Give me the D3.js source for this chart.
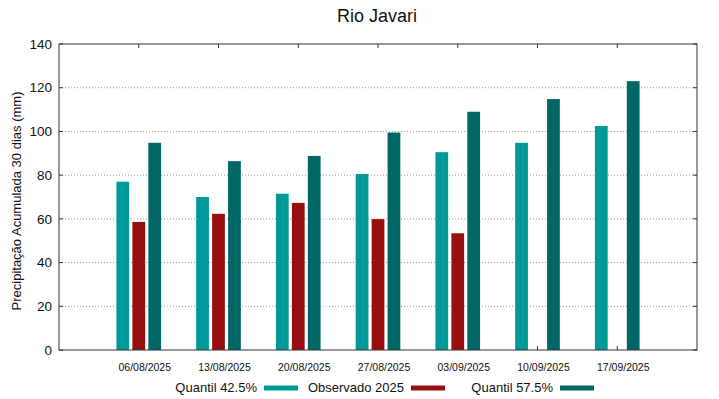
<!DOCTYPE html>
<html>
<head>
<meta charset="utf-8">
<script src="https://cdn.jsdelivr.net/npm/d3@7"></script>
<style>
body{margin:0;background:#fff;}
svg{display:block;font-family:"Liberation Sans",Arial,sans-serif;}
</style>
</head>
<body>
<svg id="chart" width="719" height="399"></svg>
<script>
const dates = ["06/08/2025","13/08/2025","20/08/2025","27/08/2025","03/09/2025","10/09/2025","17/09/2025"];
const quantil425 = [77, 70, 71.5, 80.5, 90.5, 94.8, 102.5];
const observado2025 = [58.6, 62.3, 67.3, 59.9, 53.4, null, null];
const quantil575 = [94.8, 86.4, 88.8, 99.5, 109, 114.8, 123];
const yTicks = [0, 20, 40, 60, 80, 100, 120, 140];

const svg = d3.select("#chart");
const L = 59, R = 697, T = 44, B = 350;
const x = d3.scalePoint().domain(dates).range([L, R]).padding(1);
const y = d3.scaleLinear().domain([0, 140]).range([B, T]);
const step = x.step();
const bw = step * 0.16, off = step * 0.2;

// grid
svg.append("g").selectAll("line").data(yTicks.filter(d => d > 0 && d < 140)).join("line")
  .attr("x1", L).attr("x2", R).attr("y1", d => y(d)).attr("y2", d => y(d))
  .attr("stroke", "#999").attr("stroke-width", 1).attr("stroke-dasharray", "1,2");

// tick marks (inside, mirrored)
const tk = svg.append("g").attr("stroke", "#333").attr("stroke-width", 1);
tk.selectAll(".yl").data(yTicks).join("line").attr("class","yl").attr("x1", L).attr("x2", L + 4)
  .attr("y1", d => y(d)).attr("y2", d => y(d));
tk.selectAll(".yr").data(yTicks).join("line").attr("class","yr").attr("x1", R - 4).attr("x2", R)
  .attr("y1", d => y(d)).attr("y2", d => y(d));
tk.selectAll(".xb").data(dates).join("line").attr("class","xb").attr("x1", d => x(d)).attr("x2", d => x(d))
  .attr("y1", B).attr("y2", B - 4);
tk.selectAll(".xt").data(dates).join("line").attr("class","xt").attr("x1", d => x(d)).attr("x2", d => x(d))
  .attr("y1", T).attr("y2", T + 4);

// bars
const series = [
  {name: "Quantil 42.5%", vals: quantil425, color: "#009999", dx: -off},
  {name: "Observado 2025", vals: observado2025, color: "#990f0f", dx: 0},
  {name: "Quantil 57.5%", vals: quantil575, color: "#006666", dx: off}
];
series.forEach(s => {
  svg.append("g").selectAll("rect").data(dates.map((d, i) => ({d, v: s.vals[i]})).filter(e => e.v != null))
    .join("rect")
    .attr("x", e => x(e.d) + s.dx - bw / 2).attr("width", bw)
    .attr("y", e => y(e.v)).attr("height", e => y(0) - y(e.v))
    .attr("fill", s.color);
});

// frame
svg.append("rect").attr("x", L).attr("y", T).attr("width", R - L).attr("height", B - T)
  .attr("fill", "none").attr("stroke", "#333").attr("stroke-width", 1);

// y labels
svg.append("g").selectAll("text").data(yTicks).join("text")
  .attr("x", 52).attr("y", d => y(d)).attr("dy", "0.35em").attr("text-anchor", "end")
  .attr("font-size", 13.5).attr("fill", "#111").text(d => d);

// x labels
svg.append("g").selectAll("text").data(dates).join("text")
  .attr("x", d => x(d) + 6).attr("y", 371).attr("text-anchor", "middle")
  .attr("font-size", 10.5).attr("fill", "#111").text(d => d);

// title
svg.append("text").attr("x", 377).attr("y", 22).attr("text-anchor", "middle")
  .attr("font-size", 18).attr("fill", "#111").text("Rio Javari");

// y axis title
svg.append("text").attr("transform", "translate(21,201) rotate(-90)").attr("text-anchor", "middle")
  .attr("font-size", 13).attr("fill", "#111").text("Precipitação Acumulada 30 dias (mm)");

// legend
const legX = [257, 404, 553];
series.forEach((s, i) => {
  svg.append("text").attr("x", legX[i]).attr("y", 392).attr("text-anchor", "end")
    .attr("font-size", 13).attr("fill", "#111").text(s.name);
  svg.append("rect").attr("x", legX[i] + 7).attr("y", 385.5).attr("width", 34).attr("height", 5)
    .attr("fill", s.color);
});
</script>
</body>
</html>
